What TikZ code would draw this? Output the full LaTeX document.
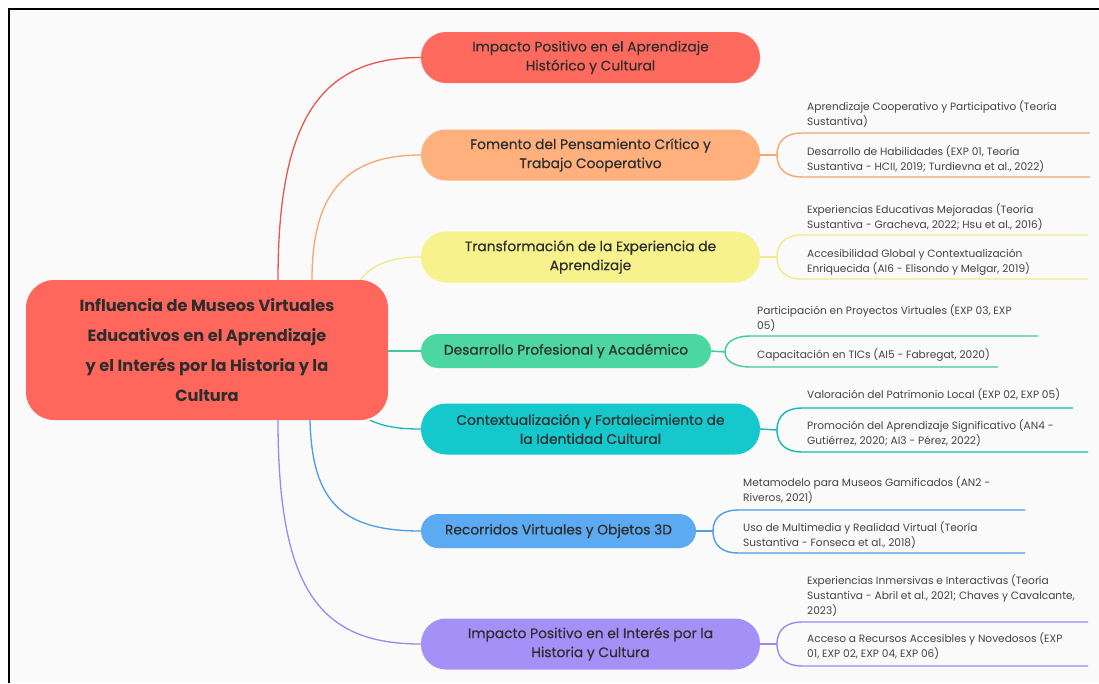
\documentclass[tikz,border=0pt]{standalone}
\usepackage{fontspec}
\setmainfont{Poppins}
\newfontfamily\branchfont{Poppins}[FakeBold=0.35]
\usetikzlibrary{calc}
\definecolor{bgc}{HTML}{FAFAFA}
\definecolor{txt}{HTML}{2D2D2D}
\definecolor{leaftxt}{HTML}{444444}
\definecolor{cCentral}{HTML}{FF675D}
\definecolor{cRed}{HTML}{FF6A5E}
\definecolor{cOrange}{HTML}{FFB07C}
\definecolor{cYellow}{HTML}{F7F28C}
\definecolor{cGreen}{HTML}{4CD6A0}
\definecolor{cTeal}{HTML}{14C8CC}
\definecolor{cBlue}{HTML}{5BAAF2}
\definecolor{cPurple}{HTML}{A391F7}
\definecolor{lRed}{HTML}{E8574C}
\definecolor{lOrange}{HTML}{F5A774}
\definecolor{lYellow}{HTML}{F0EA8A}
\definecolor{lGreen}{HTML}{3ECB96}
\definecolor{lTeal}{HTML}{12B8BB}
\definecolor{lBlue}{HTML}{4C9CE6}
\definecolor{lPurple}{HTML}{9C88EE}
\tikzset{
  basebox/.style={inner sep=0pt, text=txt},
  central/.style={basebox, fill=cCentral, rounded corners=28pt, minimum width=362pt, minimum height=140pt, align=center, font=\fontsize{16.2}{30}\selectfont\bfseries},
  branch/.style={basebox, rounded corners=25pt, minimum height=51pt, align=center, font=\branchfont\fontsize{13.8}{19}\selectfont},
  smallbranch/.style={branch, rounded corners=17pt, minimum height=34pt},
  leaf/.style={basebox, anchor=west, align=left, font=\fontsize{10.6}{15}\selectfont, text=leaftxt},
  link/.style={line width=1.3pt},
  uline/.style={line width=1.4pt},
}
\begin{document}
\begin{tikzpicture}[x=1pt,y=-1pt]
\useasboundingbox (0,0) rectangle (1099,683);
\fill[white] (0,0) rectangle (1099,683);
\fill[bgc] (9,9) rectangle (1099,683);
\draw[line width=2pt, black] (9,683) -- (9,9) -- (1099,9);

% central
\node[central] (ctr) at (207,350) {Influencia de Museos Virtuales\\Educativos en el Aprendizaje\\y el Interés por la Historia y la\\Cultura};

% branches
\node[branch, fill=cRed, minimum width=339pt] (b1) at (590.5,57.5) {Impacto Positivo en el Aprendizaje\\Histórico y Cultural};
\node[branch, fill=cOrange, minimum width=339pt] (b2) at (590.5,155) {Fomento del Pensamiento Crítico y\\Trabajo Cooperativo};
\node[branch, fill=cYellow, minimum width=339pt] (b3) at (590.5,257) {Transformación de la Experiencia de\\Aprendizaje};
\node[smallbranch, fill=cGreen, minimum width=290pt] (b4) at (566,351) {Desarrollo Profesional y Académico};
\node[branch, fill=cTeal, minimum width=339pt] (b5) at (590.5,429) {Contextualización y Fortalecimiento de\\la Identidad Cultural};
\node[smallbranch, fill=cBlue, minimum width=275pt] (b6) at (558.5,531) {Recorridos Virtuales y Objetos 3D};
\node[branch, fill=cPurple, minimum width=339pt] (b7) at (590.5,644) {Impacto Positivo en el Interés por la\\Historia y Cultura};

% connectors central -> branches
\draw[link, lRed] ([xshift=71pt]ctr.north) .. controls (278,120) and (320,57.5) .. (b1.west);
\draw[link, lOrange] ([xshift=105pt]ctr.north) .. controls (312,200) and (340,155) .. (b2.west);
\draw[link, lYellow] ([xshift=153pt]ctr.north) .. controls (375,262) and (395,257) .. (b3.west);
\draw[link, lGreen] (ctr.east |- b4.west) -- (b4.west);
\draw[link, lTeal] ([xshift=163pt]ctr.south) .. controls (385,427) and (400,429) .. (b5.west);
\draw[link, lBlue] ([xshift=103pt]ctr.south) .. controls (312,500) and (340,531) .. (b6.west);
\draw[link, lPurple] ([xshift=71pt]ctr.south) .. controls (278,590) and (320,644) .. (b7.west);

% group 2
\coordinate (s2) at (777,155);
\node[leaf] (l2a) at (807,114) {Aprendizaje Cooperativo y Participativo (Teoría\\Sustantiva)};
\node[leaf] (l2b) at (807,159) {Desarrollo de Habilidades (EXP 01, Teoría\\Sustantiva - HCII, 2019; Turdievna et al., 2022)};
\coordinate (u2a) at (802,133); \coordinate (e2a) at (1090,133);
\coordinate (u2b) at (802,177); \coordinate (e2b) at (1090,177);
\draw[uline, lOrange] (b2.east) -- (s2);
\draw[uline, lOrange] (e2a) -- (u2a) .. controls (787,133) and (777,140) .. (s2) .. controls (777,170) and (787,177) .. (u2b) -- (e2b);

% group 3
\coordinate (s3) at (777,257);
\node[leaf] (l3a) at (807,217) {Experiencias Educativas Mejoradas (Teoría\\Sustantiva - Gracheva, 2022; Hsu et al., 2016)};
\node[leaf] (l3b) at (807,262) {Accesibilidad Global y Contextualización\\Enriquecida (AI6 - Elisondo y Melgar, 2019)};
\coordinate (u3a) at (802,235); \coordinate (e3a) at (1088,235);
\coordinate (u3b) at (802,279); \coordinate (e3b) at (1088,279);
\draw[uline, lYellow] (b3.east) -- (s3);
\draw[uline, lYellow] (e3a) -- (u3a) .. controls (787,235) and (777,242) .. (s3) .. controls (777,272) and (787,279) .. (u3b) -- (e3b);

% group 4
\coordinate (s4) at (725,352);
\node[leaf] (l4a) at (757,318) {Participación en Proyectos Virtuales (EXP 03, EXP\\05)};
\node[leaf] (l4b) at (757,355) {Capacitación en TICs (AI5 - Fabregat, 2020)};
\coordinate (u4a) at (750,336); \coordinate (e4a) at (1038,336);
\coordinate (u4b) at (750,367); \coordinate (e4b) at (998,367);
\draw[uline, lGreen] (b4.east) -- (s4);
\draw[uline, lGreen] (e4a) -- (u4a) .. controls (735,336) and (725,342) .. (s4) .. controls (725,361) and (735,367) .. (u4b) -- (e4b);

% group 5
\coordinate (s5) at (777,430);
\node[leaf] (l5a) at (807,395) {Valoración del Patrimonio Local (EXP 02, EXP 05)};
\node[leaf] (l5b) at (807,433) {Promoción del Aprendizaje Significativo (AN4 -\\Gutiérrez, 2020; AI3 - Pérez, 2022)};
\coordinate (u5a) at (802,408); \coordinate (e5a) at (1073,408);
\coordinate (u5b) at (802,452); \coordinate (e5b) at (1088,452);
\draw[uline, lTeal] (b5.east) -- (s5);
\draw[uline, lTeal] (e5a) -- (u5a) .. controls (787,408) and (777,415) .. (s5) .. controls (777,445) and (787,452) .. (u5b) -- (e5b);

% group 6
\coordinate (s6) at (713,531);
\node[leaf] (l6a) at (743,490) {Metamodelo para Museos Gamificados (AN2 -\\Riveros, 2021)};
\node[leaf] (l6b) at (743,535) {Uso de Multimedia y Realidad Virtual (Teoría\\Sustantiva - Fonseca et al., 2018)};
\coordinate (u6a) at (738,510); \coordinate (e6a) at (1025,510);
\coordinate (u6b) at (738,553); \coordinate (e6b) at (1025,553);
\draw[uline, lBlue] (b6.east) -- (s6);
\draw[uline, lBlue] (e6a) -- (u6a) .. controls (723,510) and (713,517) .. (s6) .. controls (713,546) and (723,553) .. (u6b) -- (e6b);

% group 7
\coordinate (s7) at (777,644);
\node[leaf] (l7a) at (807,596) {Experiencias Inmersivas e Interactivas (Teoría\\Sustantiva - Abril et al., 2021; Chaves y Cavalcante,\\2023)};
\node[leaf] (l7b) at (807,646) {Acceso a Recursos Accesibles y Novedosos (EXP\\01, EXP 02, EXP 04, EXP 06)};
\coordinate (u7a) at (802,622); \coordinate (e7a) at (1088,622);
\coordinate (u7b) at (802,666); \coordinate (e7b) at (1088,666);
\draw[uline, lPurple] (b7.east) -- (s7);
\draw[uline, lPurple] (e7a) -- (u7a) .. controls (787,622) and (777,629) .. (s7) .. controls (777,659) and (787,666) .. (u7b) -- (e7b);
\end{tikzpicture}
\end{document}
